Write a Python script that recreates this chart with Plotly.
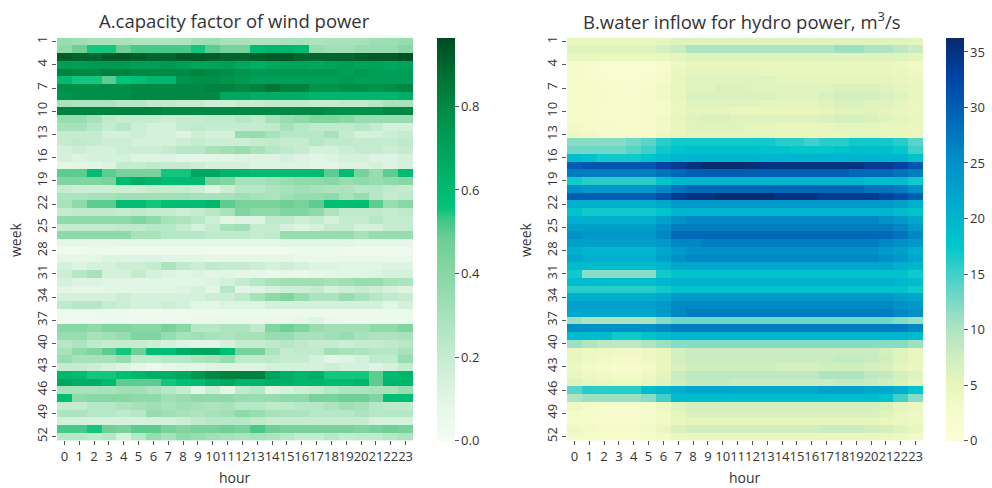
import plotly.graph_objects as go

hours = list(range(24))
weeks = list(range(1, 53))
week_ticks = list(range(1, 53, 3))

# capacity factor of wind power, rows = weeks 1..52, columns = hours 0..23
wind_cf = [
    [0.35,0.33,0.3,0.3,0.3,0.27,0.27,0.27,0.28,0.32,0.33,0.3,0.3,0.28,0.28,0.3,0.3,0.28,0.3,0.3,0.3,0.33,0.33,0.35],
    [0.38,0.48,0.55,0.55,0.48,0.52,0.52,0.52,0.52,0.55,0.5,0.45,0.45,0.6,0.62,0.62,0.6,0.35,0.32,0.32,0.35,0.35,0.35,0.4],
    [0.92,0.9,0.9,0.93,0.93,0.92,0.9,0.9,0.93,0.93,0.92,0.9,0.9,0.92,0.93,0.93,0.9,0.9,0.9,0.9,0.92,0.93,0.93,0.95],
    [0.72,0.72,0.74,0.74,0.74,0.72,0.72,0.74,0.72,0.7,0.7,0.72,0.68,0.65,0.68,0.7,0.7,0.68,0.7,0.72,0.7,0.7,0.68,0.7],
    [0.82,0.8,0.8,0.82,0.82,0.8,0.8,0.8,0.8,0.82,0.8,0.78,0.76,0.74,0.74,0.74,0.74,0.74,0.74,0.72,0.74,0.72,0.72,0.72],
    [0.6,0.55,0.55,0.5,0.56,0.58,0.62,0.62,0.76,0.78,0.78,0.76,0.74,0.72,0.72,0.72,0.72,0.72,0.72,0.74,0.72,0.72,0.72,0.72],
    [0.78,0.78,0.78,0.78,0.78,0.8,0.8,0.8,0.8,0.8,0.82,0.82,0.8,0.82,0.86,0.82,0.82,0.76,0.76,0.78,0.78,0.76,0.78,0.8],
    [0.76,0.78,0.78,0.78,0.78,0.8,0.8,0.8,0.8,0.8,0.8,0.68,0.68,0.65,0.65,0.65,0.65,0.62,0.62,0.62,0.62,0.62,0.62,0.65],
    [0.3,0.28,0.28,0.28,0.25,0.25,0.22,0.22,0.2,0.2,0.18,0.18,0.2,0.2,0.22,0.22,0.22,0.2,0.2,0.22,0.22,0.25,0.3,0.3],
    [0.82,0.82,0.82,0.82,0.82,0.82,0.82,0.8,0.8,0.8,0.8,0.8,0.8,0.8,0.8,0.8,0.8,0.8,0.78,0.78,0.78,0.78,0.8,0.8],
    [0.35,0.35,0.3,0.22,0.2,0.2,0.2,0.18,0.2,0.2,0.22,0.22,0.25,0.22,0.3,0.35,0.38,0.42,0.42,0.4,0.35,0.35,0.35,0.35],
    [0.3,0.3,0.25,0.2,0.25,0.18,0.15,0.15,0.2,0.22,0.2,0.2,0.2,0.2,0.22,0.3,0.25,0.22,0.22,0.22,0.25,0.2,0.15,0.15],
    [0.2,0.2,0.2,0.15,0.15,0.18,0.15,0.15,0.12,0.18,0.15,0.15,0.35,0.35,0.3,0.25,0.25,0.25,0.3,0.2,0.15,0.15,0.18,0.2],
    [0.2,0.22,0.2,0.18,0.18,0.15,0.15,0.15,0.18,0.2,0.18,0.18,0.18,0.2,0.22,0.2,0.2,0.25,0.22,0.22,0.2,0.2,0.2,0.22],
    [0.15,0.18,0.15,0.15,0.18,0.18,0.18,0.2,0.25,0.25,0.3,0.32,0.35,0.3,0.25,0.22,0.2,0.15,0.15,0.18,0.2,0.2,0.18,0.2],
    [0.15,0.12,0.15,0.15,0.15,0.12,0.12,0.12,0.1,0.1,0.1,0.1,0.12,0.12,0.12,0.15,0.12,0.1,0.12,0.15,0.15,0.12,0.12,0.15],
    [0.08,0.1,0.1,0.12,0.2,0.2,0.22,0.2,0.2,0.18,0.15,0.15,0.15,0.12,0.12,0.12,0.12,0.1,0.1,0.12,0.12,0.15,0.12,0.15],
    [0.5,0.5,0.58,0.5,0.45,0.45,0.45,0.55,0.55,0.68,0.68,0.62,0.62,0.6,0.6,0.6,0.6,0.6,0.5,0.6,0.45,0.35,0.5,0.6],
    [0.42,0.42,0.42,0.45,0.6,0.65,0.62,0.6,0.6,0.6,0.45,0.42,0.3,0.3,0.32,0.35,0.38,0.38,0.4,0.35,0.38,0.35,0.38,0.4],
    [0.2,0.18,0.18,0.18,0.18,0.18,0.2,0.2,0.2,0.18,0.12,0.18,0.25,0.25,0.28,0.3,0.32,0.3,0.28,0.28,0.25,0.25,0.22,0.2],
    [0.28,0.28,0.3,0.3,0.32,0.32,0.32,0.32,0.32,0.3,0.3,0.3,0.32,0.3,0.28,0.32,0.35,0.35,0.38,0.3,0.35,0.25,0.2,0.22],
    [0.3,0.38,0.5,0.5,0.6,0.6,0.55,0.58,0.6,0.6,0.62,0.5,0.45,0.45,0.45,0.48,0.45,0.5,0.58,0.58,0.6,0.5,0.35,0.4],
    [0.2,0.22,0.22,0.22,0.2,0.22,0.2,0.2,0.18,0.2,0.25,0.3,0.42,0.38,0.38,0.42,0.42,0.38,0.28,0.22,0.22,0.22,0.2,0.22],
    [0.38,0.38,0.38,0.38,0.38,0.42,0.38,0.3,0.28,0.25,0.18,0.1,0.12,0.12,0.22,0.22,0.18,0.2,0.15,0.2,0.2,0.25,0.2,0.2],
    [0.2,0.2,0.2,0.2,0.22,0.22,0.25,0.25,0.2,0.15,0.2,0.3,0.32,0.2,0.2,0.15,0.12,0.15,0.2,0.2,0.15,0.15,0.2,0.2],
    [0.38,0.38,0.38,0.38,0.38,0.3,0.3,0.25,0.25,0.25,0.22,0.22,0.22,0.2,0.22,0.35,0.35,0.35,0.35,0.35,0.3,0.35,0.35,0.35],
    [0.08,0.08,0.08,0.08,0.08,0.08,0.08,0.08,0.08,0.08,0.08,0.08,0.08,0.08,0.08,0.1,0.1,0.1,0.1,0.1,0.08,0.08,0.08,0.08],
    [0.04,0.04,0.05,0.05,0.04,0.04,0.04,0.04,0.04,0.04,0.04,0.04,0.04,0.04,0.04,0.04,0.05,0.05,0.05,0.04,0.04,0.04,0.04,0.04],
    [0.08,0.08,0.08,0.12,0.12,0.12,0.12,0.1,0.1,0.1,0.08,0.08,0.08,0.08,0.08,0.08,0.06,0.06,0.06,0.06,0.06,0.06,0.06,0.06],
    [0.15,0.12,0.15,0.15,0.18,0.18,0.2,0.28,0.22,0.18,0.22,0.2,0.2,0.18,0.15,0.18,0.15,0.12,0.12,0.1,0.1,0.1,0.12,0.12],
    [0.18,0.25,0.3,0.15,0.15,0.2,0.15,0.12,0.1,0.12,0.1,0.1,0.08,0.08,0.06,0.08,0.06,0.08,0.1,0.1,0.1,0.12,0.15,0.15],
    [0.15,0.12,0.12,0.1,0.1,0.1,0.1,0.1,0.1,0.1,0.12,0.15,0.2,0.25,0.3,0.32,0.32,0.32,0.3,0.32,0.35,0.35,0.3,0.28],
    [0.1,0.08,0.08,0.1,0.1,0.1,0.1,0.1,0.12,0.15,0.1,0.25,0.1,0.12,0.15,0.18,0.18,0.2,0.15,0.18,0.2,0.18,0.15,0.12],
    [0.15,0.15,0.15,0.15,0.18,0.15,0.15,0.15,0.15,0.15,0.18,0.18,0.22,0.3,0.38,0.42,0.35,0.28,0.28,0.35,0.3,0.25,0.22,0.2],
    [0.22,0.25,0.25,0.2,0.18,0.15,0.15,0.18,0.15,0.1,0.1,0.12,0.12,0.12,0.15,0.15,0.15,0.15,0.15,0.15,0.15,0.15,0.1,0.15],
    [0.05,0.05,0.05,0.05,0.05,0.04,0.04,0.04,0.04,0.05,0.05,0.05,0.05,0.05,0.05,0.05,0.05,0.05,0.05,0.05,0.05,0.05,0.05,0.05],
    [0.04,0.04,0.04,0.05,0.05,0.05,0.05,0.05,0.05,0.06,0.06,0.06,0.06,0.06,0.06,0.06,0.08,0.12,0.06,0.05,0.05,0.05,0.05,0.05],
    [0.4,0.4,0.38,0.42,0.42,0.4,0.4,0.45,0.4,0.25,0.25,0.28,0.28,0.22,0.42,0.48,0.42,0.35,0.32,0.32,0.32,0.38,0.38,0.42],
    [0.35,0.35,0.3,0.32,0.35,0.42,0.42,0.35,0.3,0.32,0.3,0.28,0.3,0.3,0.35,0.35,0.3,0.3,0.32,0.35,0.3,0.28,0.28,0.3],
    [0.25,0.28,0.22,0.2,0.2,0.2,0.18,0.15,0.12,0.1,0.1,0.15,0.2,0.2,0.22,0.25,0.22,0.2,0.2,0.18,0.2,0.2,0.22,0.25],
    [0.3,0.38,0.42,0.5,0.55,0.48,0.58,0.58,0.65,0.68,0.68,0.58,0.45,0.45,0.28,0.2,0.22,0.22,0.32,0.3,0.28,0.25,0.25,0.3],
    [0.35,0.3,0.3,0.3,0.35,0.22,0.22,0.25,0.25,0.28,0.3,0.35,0.22,0.22,0.22,0.2,0.2,0.15,0.1,0.12,0.15,0.22,0.22,0.35],
    [0.2,0.2,0.18,0.15,0.12,0.08,0.05,0.08,0.1,0.1,0.12,0.12,0.12,0.12,0.15,0.15,0.15,0.15,0.18,0.15,0.15,0.12,0.15,0.2],
    [0.62,0.6,0.55,0.55,0.58,0.62,0.65,0.65,0.68,0.75,0.8,0.82,0.82,0.82,0.7,0.65,0.62,0.65,0.55,0.55,0.55,0.5,0.6,0.62],
    [0.68,0.65,0.65,0.6,0.5,0.5,0.5,0.55,0.58,0.6,0.65,0.68,0.62,0.62,0.65,0.65,0.62,0.62,0.6,0.6,0.62,0.5,0.62,0.62],
    [0.3,0.3,0.3,0.3,0.32,0.32,0.28,0.25,0.2,0.1,0.18,0.1,0.22,0.25,0.12,0.15,0.18,0.2,0.25,0.28,0.28,0.3,0.3,0.35],
    [0.58,0.38,0.4,0.4,0.4,0.38,0.38,0.32,0.35,0.38,0.38,0.38,0.35,0.35,0.35,0.38,0.38,0.45,0.45,0.48,0.48,0.42,0.58,0.58],
    [0.2,0.2,0.25,0.25,0.28,0.3,0.32,0.3,0.32,0.3,0.28,0.3,0.25,0.25,0.22,0.22,0.25,0.25,0.28,0.32,0.3,0.25,0.22,0.22],
    [0.28,0.28,0.25,0.25,0.22,0.25,0.35,0.32,0.3,0.28,0.3,0.32,0.38,0.35,0.3,0.28,0.28,0.25,0.25,0.25,0.28,0.25,0.25,0.25],
    [0.15,0.15,0.15,0.15,0.15,0.15,0.15,0.15,0.18,0.22,0.25,0.25,0.25,0.22,0.2,0.2,0.2,0.2,0.2,0.2,0.2,0.15,0.15,0.15],
    [0.52,0.52,0.55,0.48,0.45,0.5,0.5,0.45,0.42,0.45,0.45,0.48,0.45,0.52,0.48,0.45,0.45,0.45,0.45,0.45,0.42,0.45,0.48,0.45],
    [0.25,0.25,0.22,0.25,0.15,0.25,0.35,0.3,0.38,0.35,0.32,0.3,0.28,0.3,0.28,0.25,0.2,0.2,0.25,0.2,0.22,0.22,0.25,0.28],
]

# water inflow for hydro power (m3/s), rows = weeks 1..52, columns = hours 0..23
hydro_inflow = [
    [5,5,5,5,5,5,5.5,6,6,6,6,6,6,6,6,6,6,6,6,6,6,6,6,5.5],
    [6,6,6,6,6,6,7,8,10,10,10,10,10,10,10,10,10,10,11,11,10,10,9,8],
    [5,5,4.5,4.5,4.5,4.5,5,5.5,6,6,6,6,6,6,6,6,6,6,6,6,6,6,6,5.5],
    [2.5,2,1.5,1.5,1.5,1.5,2,4,5,5,5,5,5,5,5,5,5,5,5,5,5,5,4,3.5],
    [2.5,2,1.5,1,1,1.5,2.5,4.5,5.5,5.5,5.5,5.5,5.5,5,5,5,5,5,5,5,5,5,4.5,4],
    [3,2.5,2,1.5,1.5,2,3,5,6,6,6,6,6,6,5.5,5.5,5.5,5.5,5.5,5.5,5.5,5.5,5,4.5],
    [3,3,2.5,2,2,2.5,3.5,5,6,6,6.5,6.5,6,6,6,6,6,6,6.5,6.5,6.5,6,5.5,5],
    [3,3,2.5,2,2,2.5,3.5,5,6.5,6.5,6.5,6.5,6.5,6.5,6,6,6,6.5,7,7,7,6.5,6,5],
    [3,3,2.5,2,2,2.5,3,4.5,6,6,6,6,6,5.5,5.5,5.5,5.5,6,6.5,6.5,6,6,5.5,4.5],
    [3,2.5,2,2,2,2.5,3,4.5,5.5,5.5,5.5,5,5,5,5,5,5,5.5,6,6,6,5.5,5,4.5],
    [3,3,2.5,2,2,2.5,3.5,5,6,6.5,6.5,6,6,6,6,6,6,6.5,7,7,6.5,6,5.5,5],
    [3.5,3,2.5,2.5,2.5,2.5,3.5,5,6,6,6,6,5.5,5.5,5,5,5,5,5.5,5.5,5.5,5,5,4.5],
    [4,3.5,3,3,3,3,4,5,5.5,5.5,5.5,5.5,5.5,5.5,5,5,5,5,5,5.5,5.5,5,5,4.5],
    [12,12,12,12,13,14,16,17,17,17,17,17,17,17,16,16,15,16,16,17,17,17,16,14],
    [13,13,13,13,14,15,17,18,18.5,18.5,18.5,18.5,18.5,18,18,17.5,17.5,17.5,18,18.5,18.5,18.5,17.5,15],
    [19,18,17,17,17,18,19,20,20,20,20,20,20,20,20,20,20,20,20,20,20,20,20,18],
    [30,31,31,31,31,31,33,34,35,36,36,36,35.5,35,35,35,35,35,35,35,34,34,33,31],
    [27,27,27,27,27,27,28,29,30,30,30,30,30,30,30,30,30,30,30,29,29,29,28,27],
    [17,16,16,16,16,16,18,20,20,20,20,20,20,20,20,20,20,20,20,20,19,19,19,17],
    [25,24,24,24,24,24,26,28,29,29,29,29,29,29,29,29,29,29,29,29,28,28,27,25],
    [30,30,30,30,30,30,32,34,35,35,36,36,36,36,35,35,35,34,34,34,34,33,32,30],
    [21,21,21,21,21,21,22,24,24,24,24,24,24,24,24,24,24,24,24,24,24,24,23,21],
    [18,17,17,17,17,17,18,20,20,20,20,20,20,20,20,20,20,20,20,20,20,20,19,18],
    [21,21,21,21,21,21,23,25,26,26,26,26,26,26,26,26,26,26,26,26,26,25,24,22],
    [23,23,23,23,23,23,25,27,27,27,27,27,27,27,27,27,27,27,27,27,27,27,26,24],
    [25,24,24,24,24,24,26,29,29,29,29,29,29,29,29,29,29,29,29,29,29,29,28,26],
    [23,23,23,23,23,23,24,26,26,27,27,27,27,27,27,27,27,27,27,27,27,26,25,24],
    [21,20,20,20,20,20,22,24,25,25,25,25,25,25,25,25,25,25,25,25,25,24,23,21],
    [22,21,21,21,21,21,23,25,26,26,26,26,26,26,26,26,26,26,26,26,26,25,24,22],
    [19,19,19,19,19,19,20,22,22,22,22,22,22,22,22,22,22,22,22,22,22,22,21,20],
    [17,12,12,12,12,12,17,18,18,18,18,18,18,18,18,18,18,18,18,18,18,18,18,17],
    [19,19,19,19,19,19,20,21,21,21,21,21,21,21,21,21,21,21,21,21,21,21,20,19],
    [16,16,16,16,16,16,17,18,18,18,18,18,18,18,18,18,18,18,18,18,18,18,18,17],
    [21,21,21,21,21,21,22,24,24,24,24,24,24,24,24,24,24,24,24,24,24,24,23,22],
    [23,23,23,23,23,23,24,26,26,26,26,26,26,26,26,26,26,26,26,26,26,26,25,24],
    [22,22,22,22,22,22,24,26,27,27,27,27,27,27,27,27,27,27,27,27,27,27,26,25],
    [11,10,10,10,10,10,12,13,13,13,13,13,13,13,13,13,13,13,13,13,13,13,12,11],
    [25,25,25,25,25,25,26,27,27,27,27,27,27,27,27,27,27,27,27,27,27,27,27,26],
    [19,19,19,17,17,18,19,20,20,20,20,20,20,20,20,20,20,20,20,20,20,20,20,19],
    [11,10,9,9,9,10,11,12,12,12,12,12,12,12,12,12,12,12,12,12,12,12,12,11],
    [5,4,4,3.5,3.5,4,5,7,8,8,8,8,8,8,8,8,8,8,8,8,8,7,6,5],
    [5,4,3.5,3,3,4,5,7,8,8,8,8,8,8,8,8,8,8,8.5,8.5,8,7.5,6,5],
    [4,3,2.5,2,2,3,4.5,6.5,7.5,7.5,7.5,7.5,7.5,7.5,7,7,7,7.5,7.5,7.5,7,6.5,5.5,4.5],
    [5,4,3.5,3,3,4,5.5,8,9,9,9,9,9,9,9,9,9,10,10,10,9,8.5,7,6],
    [6,5,4.5,4,4,5,6,7.5,8.5,8.5,8.5,8,8,8,8,8,8,8,8.5,8.5,8,7.5,6.5,5.5],
    [14,16,16,16,16,19,20,21,22,22,22,22,22,22,22,22,22,23,23,23,22,22,21,18],
    [10,11,11,11,11,12,15,19,19,19,19,19,19,19,19,19,19,19,19,19,19,18,15,12],
    [4,3,2.5,2.5,2.5,3,4,6,7,7,7,7,7,7,7,7,7,7,7,7,7,6.5,5.5,4.5],
    [3,2.5,2,2,2,2.5,3.5,5.5,6.5,6.5,6.5,6.5,6.5,6.5,6.5,6.5,6.5,6.5,6.5,6.5,6.5,6,5,4],
    [3,2.5,2,2,2,2.5,3.5,5,5.5,5.5,5.5,5.5,5.5,5.5,5.5,5.5,5.5,5.5,5.5,5.5,5.5,5,4.5,4],
    [4,3.5,3,3,3,3.5,4.5,6.5,7.5,7.5,7.5,7.5,7.5,7.5,7.5,7.5,7.5,8,8,8,7.5,7,6,5],
    [3,2.5,2,2,2,2.5,3.5,4.5,5,5,5,5,5,5,5,5,5,5,5,5,5,4.5,4,3.5],
]

wind_scale = [
    [0.0, "#f5fcf4"], [0.1, "#e3f6e6"], [0.2, "#c8edd2"], [0.3, "#aae3bd"],
    [0.4, "#8cd9a8"], [0.5, "#6ecf95"], [0.55, "#3cc886"], [0.58, "#00c47a"],
    [0.68, "#00ae64"], [0.8, "#00914a"], [0.9, "#007334"], [1.0, "#004b20"],
]
hydro_scale = [
    [0.0, "#fcfdd6"], [0.07, "#f6fbcb"], [0.139, "#e9f6bd"], [0.208, "#d0eebf"],
    [0.278, "#aee4c2"], [0.347, "#7ad9c6"], [0.417, "#3dd0c9"], [0.486, "#00c6cb"],
    [0.556, "#00b4ce"], [0.694, "#0090c8"], [0.833, "#005cb2"], [0.917, "#0040a0"],
    [1.0, "#0a2a6a"],
]

W, H = 992, 488
top_px, bot_px = 36, 442
y0, y1 = 1 - bot_px / H, 1 - top_px / H
ax_a = (57 / W, 413 / W)
ax_b = (567 / W, 923 / W)
FONT = "Open Sans"
TXT = "#333333"

def cbar(xpx, fmt, dtick):
    return dict(
        x=xpx / W, xanchor="left", y=(y0 + y1) / 2, yanchor="middle",
        len=(y1 - y0), lenmode="fraction", thickness=18, thicknessmode="pixels",
        outlinewidth=0, ypad=0, xpad=0, ticks="outside", ticklen=4, tickcolor="#555555",
        tickformat=fmt, dtick=dtick, tick0=0, tickfont=dict(family=FONT, size=13, color=TXT),
    )

fig = go.Figure()
fig.add_trace(go.Heatmap(
    z=wind_cf, x=hours, y=weeks, colorscale=wind_scale, zmin=0, zmax=0.965,
    colorbar=cbar(437, ".1f", 0.2), xaxis="x", yaxis="y",
))
fig.add_trace(go.Heatmap(
    z=hydro_inflow, x=hours, y=weeks, colorscale=hydro_scale, zmin=0, zmax=36.3,
    colorbar=cbar(946, "d", 5), xaxis="x2", yaxis="y2",
))

xcommon = dict(
    tickmode="array", tickvals=hours, ticktext=[str(h) for h in hours], tickangle=0,
    range=[-0.5, 23.5], showgrid=False, zeroline=False, showline=False,
    ticks="outside", ticklen=4, tickcolor="#555555",
    tickfont=dict(family=FONT, size=13, color=TXT),
)
ycommon = dict(
    tickmode="array", tickvals=week_ticks, ticktext=[str(w) for w in week_ticks], tickangle=-90,
    range=[52.5, 0.5], showgrid=False, zeroline=False, showline=False,
    ticks="outside", ticklen=4, tickcolor="#555555",
    tickfont=dict(family=FONT, size=13, color=TXT), domain=[y0, y1],
)
fig.update_layout(
    width=W, height=H, margin=dict(l=0, r=0, t=0, b=0),
    paper_bgcolor="white", plot_bgcolor="white",
    xaxis=dict(domain=list(ax_a), anchor="y", **xcommon),
    yaxis=dict(anchor="x", **ycommon),
    xaxis2=dict(domain=list(ax_b), anchor="y2", **xcommon),
    yaxis2=dict(anchor="x2", **ycommon),
    font=dict(family=FONT, color=TXT),
)

ann = [
    dict(text="A.capacity factor of wind power", x=(ax_a[0] + ax_a[1]) / 2, y=1 - 19 / H,
         font=dict(size=18.5)),
    dict(text="B.water inflow for hydro power, m<sup>3</sup>/s", x=(ax_b[0] + ax_b[1]) / 2 - 3 / W,
         y=1 - 19 / H, font=dict(size=18.5)),
    dict(text="hour", x=(ax_a[0] + ax_a[1]) / 2, y=1 - 479 / H, font=dict(size=14)),
    dict(text="hour", x=(ax_b[0] + ax_b[1]) / 2, y=1 - 479 / H, font=dict(size=14)),
    dict(text="week", x=15 / W, y=1 - 240 / H, textangle=-90, font=dict(size=14)),
    dict(text="week", x=525 / W, y=1 - 240 / H, textangle=-90, font=dict(size=14)),
]
for a in ann:
    a.update(xref="paper", yref="paper", showarrow=False, xanchor="center", yanchor="middle")
    a["font"].update(family=FONT, color=TXT)
fig.update_layout(annotations=ann)

fig.write_html(
    "out.html",
    config={"displayModeBar": False},
    post_script="document.body.style.margin='0';document.body.style.overflow='hidden';",
)
